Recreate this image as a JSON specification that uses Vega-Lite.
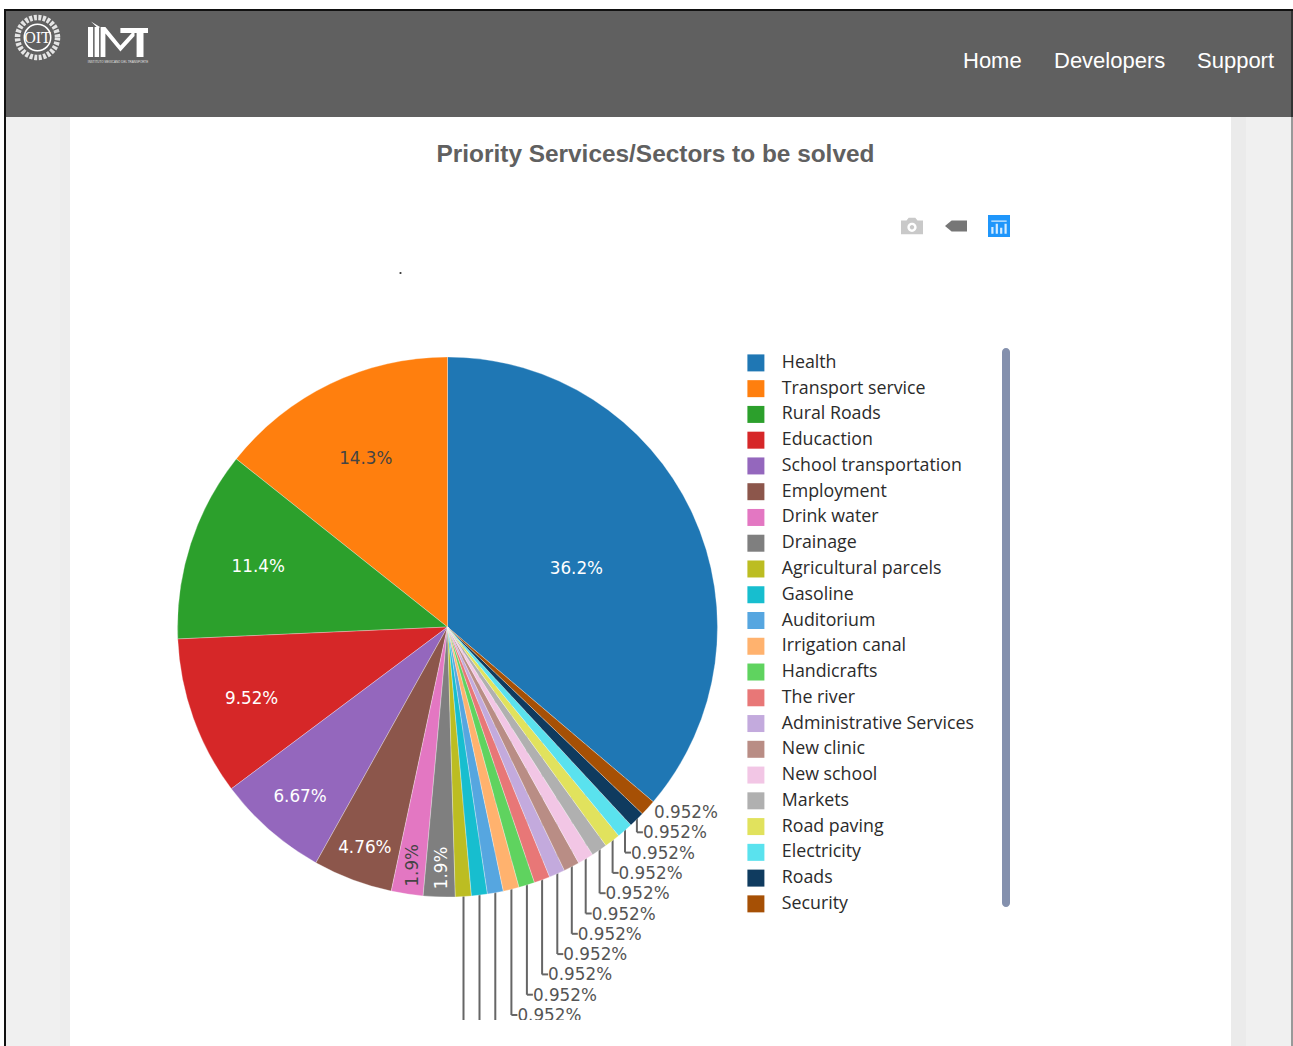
{
  "$schema": "https://vega.github.io/schema/vega-lite/v6.json",
  "width": 1293,
  "height": 1046,
  "padding": 0,
  "autosize": "none",
  "background": "white",
  "view": {"stroke": null},
  "title": {
    "text": "Priority Services/Sectors to be solved",
    "anchor": "middle",
    "dx": 9,
    "dy": 171,
    "font": "Liberation Sans",
    "fontSize": 24.4,
    "fontWeight": "bold",
    "color": "#606060"
  },
  "datasets": {
    "sectors": [
      {"name": "Health", "share": 0.362, "turn": 1},
      {"name": "Transport service", "share": 0.143, "turn": 22},
      {"name": "Rural Roads", "share": 0.114, "turn": 21},
      {"name": "Educaction", "share": 0.0952, "turn": 20},
      {"name": "School transportation", "share": 0.0667, "turn": 19},
      {"name": "Employment", "share": 0.0476, "turn": 18},
      {"name": "Drink water", "share": 0.019, "turn": 17},
      {"name": "Drainage", "share": 0.019, "turn": 16},
      {"name": "Agricultural parcels", "share": 0.00952, "turn": 15},
      {"name": "Gasoline", "share": 0.00952, "turn": 14},
      {"name": "Auditorium", "share": 0.00952, "turn": 13},
      {"name": "Irrigation canal", "share": 0.00952, "turn": 12},
      {"name": "Handicrafts", "share": 0.00952, "turn": 11},
      {"name": "The river", "share": 0.00952, "turn": 10},
      {"name": "Administrative Services", "share": 0.00952, "turn": 9},
      {"name": "New clinic", "share": 0.00952, "turn": 8},
      {"name": "New school", "share": 0.00952, "turn": 7},
      {"name": "Markets", "share": 0.00952, "turn": 6},
      {"name": "Road paving", "share": 0.00952, "turn": 5},
      {"name": "Electricity", "share": 0.00952, "turn": 4},
      {"name": "Roads", "share": 0.00952, "turn": 3},
      {"name": "Security", "share": 0.00952, "turn": 2}
    ]
  },
  "data": {"values": [{}]},
  "resolve": {"scale": {"x": "independent", "y": "independent"}},
  "layer": [
    {"mark": {"type": "rect", "x": 5, "x2": 1293, "y": 9, "y2": 1046, "fill": "#f0f0f0"}},
    {"mark": {"type": "rect", "x": 60, "x2": 70, "y": 117, "y2": 1046, "fill": "#ededed"}},
    {"mark": {"type": "rect", "x": 1231, "x2": 1246, "y": 117, "y2": 1046, "fill": "#ebebeb"}},
    {"mark": {"type": "rect", "x": 70, "x2": 1231, "y": 117, "y2": 1046, "fill": "#ffffff"}},
    {"mark": {"type": "rect", "x": 5, "x2": 1293, "y": 9, "y2": 117, "fill": "#606060"}},
    {"mark": {"type": "rect", "x": 4, "x2": 6, "y": 9, "y2": 1046, "fill": "#111111"}},
    {"mark": {"type": "rect", "x": 4, "x2": 1293, "y": 9, "y2": 11, "fill": "#111111"}},
    {"mark": {"type": "rect", "x": 1291, "x2": 1293, "y": 11, "y2": 117, "fill": "#333333"}},
    {"mark": {"type": "rect", "x": 1291, "x2": 1293, "y": 117, "y2": 1046, "fill": "#999999"}},

    {"mark": {"type": "point", "shape": "circle", "x": 37.5, "y": 37.5, "size": 1600, "filled": false, "stroke": "#e4e4e4", "strokeWidth": 5.5, "strokeDash": [3, 1.5], "opacity": 1}},
    {"mark": {"type": "point", "shape": "circle", "x": 37.5, "y": 37.5, "size": 700, "filled": false, "stroke": "#ffffff", "strokeWidth": 1.5, "opacity": 1}},
    {"mark": {"type": "text", "text": "OIT", "x": 37.5, "y": 37.5, "font": "Liberation Serif", "fontSize": 16, "color": "#ffffff", "align": "center", "baseline": "middle"}},
    {"mark": {"type": "point", "x": 118, "y": 42, "size": 3600, "filled": true, "fill": "#ffffff", "opacity": 1, "strokeWidth": 0,
      "shape": "M-1,-0.5 L-0.83,-0.5 L-0.83,0.5 L-1,0.5 Z M-0.78,-0.5 L-0.63,-0.5 L-0.63,0.5 L-0.78,0.5 Z M-0.9,-0.68 L-0.6,-0.5 L-0.66,-0.45 Z M-0.58,-0.5 L-0.42,-0.5 L0.08,0.12 L0.55,-0.4 L0.55,-0.2 L0.08,0.32 L-0.42,-0.28 L-0.42,0.5 L-0.58,0.5 Z M0.08,-0.47 L1,-0.47 L1,-0.3 L0.85,-0.3 L0.85,0.5 L0.62,0.5 L0.62,-0.3 L0.08,-0.3 Z"}},
    {"mark": {"type": "text", "text": "INSTITUTO MEXICANO DEL TRANSPORTE", "x": 118, "y": 62, "font": "Liberation Sans", "fontSize": 3, "color": "#e0e0e0", "align": "center", "baseline": "middle"}},

    {"mark": {"type": "text", "text": "Home", "x": 963, "y": 61, "font": "Liberation Sans", "fontSize": 22, "color": "#ffffff", "align": "left", "baseline": "middle"}},
    {"mark": {"type": "text", "text": "Developers", "x": 1054, "y": 61, "font": "Liberation Sans", "fontSize": 22, "color": "#ffffff", "align": "left", "baseline": "middle"}},
    {"mark": {"type": "text", "text": "Support", "x": 1197, "y": 61, "font": "Liberation Sans", "fontSize": 22, "color": "#ffffff", "align": "left", "baseline": "middle"}},

    {"mark": {"type": "point", "x": 912, "y": 226, "size": 484, "filled": true, "fill": "#c9c9c9", "opacity": 1, "strokeWidth": 0,
      "shape": "M-1,-0.5 L-0.5,-0.5 L-0.3,-0.75 L0.3,-0.75 L0.5,-0.5 L1,-0.5 L1,0.75 L-1,0.75 Z M0,-0.3 A0.42,0.42 0 1 0 0,0.54 A0.42,0.42 0 1 0 0,-0.3 Z M0,-0.08 A0.2,0.2 0 1 1 0,0.32 A0.2,0.2 0 1 1 0,-0.08 Z"}},
    {"mark": {"type": "point", "x": 956, "y": 226, "size": 484, "filled": true, "fill": "#767676", "opacity": 1, "strokeWidth": 0,
      "shape": "M-1,0 L-0.4,-0.5 L1,-0.5 L1,0.5 L-0.4,0.5 Z"}},
    {"mark": {"type": "point", "shape": "square", "x": 999, "y": 226, "size": 484, "filled": true, "fill": "#1f96fb", "opacity": 1, "strokeWidth": 0}},
    {"mark": {"type": "point", "x": 999, "y": 226, "size": 484, "filled": true, "fill": "#d5ecff", "opacity": 1, "strokeWidth": 0,
      "shape": "M-0.7,0.1 L-0.5,0.1 L-0.5,0.7 L-0.7,0.7 Z M-0.3,-0.2 L-0.1,-0.2 L-0.1,0.7 L-0.3,0.7 Z M0.1,0.15 L0.3,0.15 L0.3,0.7 L0.1,0.7 Z M0.5,-0.2 L0.7,-0.2 L0.7,0.7 L0.5,0.7 Z M-0.7,-0.5 L0.7,-0.5 L0.7,-0.38 L-0.7,-0.38 Z"}},

    {"mark": {"type": "point", "shape": "circle", "x": 400.5, "y": 273, "size": 5, "filled": true, "fill": "#333333", "opacity": 1, "strokeWidth": 0}},
    {"mark": {"type": "rect", "x": 1002, "x2": 1010, "y": 348, "y2": 907, "cornerRadius": 4, "fill": "#8490ad"}},

    {
      "data": {"name": "sectors"},
      "transform": [{"filter": "datum.turn >= 3 && datum.turn <= 15"}],
      "mark": {"type": "rule", "stroke": "#666666", "strokeWidth": 2},
      "encoding": {
        "x": {"field": "turn", "type": "quantitative", "axis": null,
          "scale": {"domain": [2, 3, 4, 5, 6, 7, 8, 9, 10, 11, 12, 13, 14, 15], "range": [647.6, 636.9, 625, 612.6, 599.6, 585.7, 571.8, 557.3, 542.1, 526.9, 511.4, 495.3, 479.5, 463.5]}},
        "y": {"field": "turn", "type": "quantitative", "axis": null,
          "scale": {"domain": [2, 12], "range": [812, 1015], "zero": false, "nice": false}},
        "y2": {"datum": -7.1}
      }
    },
    {
      "data": {"name": "sectors"},
      "transform": [{"filter": "datum.turn >= 3 && datum.turn <= 12"}],
      "mark": {"type": "tick", "orient": "horizontal", "size": 6, "thickness": 2, "xOffset": 3, "color": "#666666", "opacity": 1},
      "encoding": {
        "x": {"field": "turn", "type": "quantitative", "axis": null,
          "scale": {"domain": [2, 3, 4, 5, 6, 7, 8, 9, 10, 11, 12, 13, 14, 15], "range": [647.6, 636.9, 625, 612.6, 599.6, 585.7, 571.8, 557.3, 542.1, 526.9, 511.4, 495.3, 479.5, 463.5]}},
        "y": {"field": "turn", "type": "quantitative", "axis": null,
          "scale": {"domain": [2, 12], "range": [812, 1015], "zero": false, "nice": false}}
      }
    },
    {
      "data": {"name": "sectors"},
      "mark": {"type": "arc", "x": 447.5, "y": 627, "outerRadius": 270, "stroke": "#ffffff", "strokeWidth": 0.3},
      "encoding": {
        "theta": {"field": "share", "type": "quantitative", "stack": true},
        "order": {"field": "turn", "type": "quantitative"},
        "color": {
          "field": "name",
          "type": "nominal",
          "scale": {
            "domain": ["Health", "Transport service", "Rural Roads", "Educaction", "School transportation", "Employment", "Drink water", "Drainage", "Agricultural parcels", "Gasoline", "Auditorium", "Irrigation canal", "Handicrafts", "The river", "Administrative Services", "New clinic", "New school", "Markets", "Road paving", "Electricity", "Roads", "Security"],
            "range": ["#1f77b4", "#ff7f0e", "#2ca02c", "#d62728", "#9467bd", "#8c564b", "#e377c2", "#7f7f7f", "#bcbd22", "#17becf", "#56a6e0", "#ffb26e", "#5fd35f", "#e87777", "#c3aadd", "#b98d85", "#f2c6e5", "#b0b0b0", "#e1e25d", "#5ae2ee", "#0f3b5f", "#a65005"]
          },
          "legend": {
            "title": null,
            "orient": "none",
            "legendX": 747,
            "legendY": 354,
            "padding": 0,
            "symbolType": "square",
            "symbolSize": 289,
            "symbolStrokeWidth": 0,
            "labelFont": "Open Sans",
            "labelFontSize": 17.8,
            "labelColor": "#2b2b2b",
            "labelOffset": 17,
            "labelLimit": 320,
            "rowPadding": 6.76,
            "symbolLimit": 30
          }
        }
      }
    },
    {
      "data": {"name": "sectors"},
      "mark": {"type": "text", "x": 447.5, "y": 627, "dy": 1.5, "font": "DejaVu Sans", "fontSize": 16.8, "align": "center", "baseline": "middle"},
      "encoding": {
        "theta": {"field": "share", "type": "quantitative", "stack": true},
        "order": {"field": "turn", "type": "quantitative"},
        "detail": {"field": "name", "type": "nominal"},
        "radius": {"field": "share", "type": "quantitative",
          "scale": {"type": "linear", "domain": [0.00952, 0.019, 0.0476, 0.0667, 0.0952, 0.114, 0.143, 0.362], "range": [245, 241, 235, 224, 208, 199, 188, 142], "zero": false, "nice": false}},
        "text": {"field": "share", "type": "quantitative", "format": ".3~%", "condition": {"test": "datum.share < 0.015", "value": ""}},
        "angle": {"condition": {"test": "datum.share < 0.03", "value": 270}, "value": 0},
        "color": {"condition": {"test": "datum.name === 'Transport service' || datum.name === 'Drink water'", "value": "#444444"}, "value": "#ffffff"}
      }
    },
    {
      "data": {"name": "sectors"},
      "transform": [{"filter": "datum.turn >= 2 && datum.turn <= 12"}],
      "mark": {"type": "text", "font": "DejaVu Sans", "fontSize": 16.8, "align": "left", "baseline": "middle", "color": "#555555"},
      "encoding": {
        "x": {"field": "turn", "type": "quantitative", "axis": null,
          "scale": {"domain": [2, 3, 4, 5, 6, 7, 8, 9, 10, 11, 12], "range": [654, 642.9, 631, 618.6, 605.6, 591.7, 577.8, 563.3, 548.1, 532.9, 517.4], "zero": false, "nice": false}},
        "y": {"field": "turn", "type": "quantitative", "axis": null,
          "scale": {"domain": [2, 12], "range": [813, 1016], "zero": false, "nice": false}},
        "text": {"field": "share", "type": "quantitative", "format": ".3~%"}
      }
    },
    {"mark": {"type": "rect", "x": 70, "x2": 1231, "y": 1020, "y2": 1046, "fill": "#ffffff"}}
  ]
}
